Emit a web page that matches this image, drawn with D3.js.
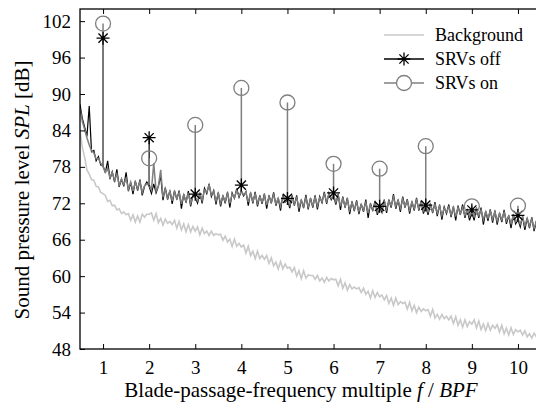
<!DOCTYPE html>
<html>
<head>
<meta charset="utf-8">
<script src="https://cdn.jsdelivr.net/npm/d3@7"></script>
<style>
  body { margin: 0; background: #fff; }
  svg { display: block; font-family: "Liberation Serif", serif; }
</style>
</head>
<body>
<div id="chart"></div>
<script>
// spectrum bins: f/BPF from 0.50 in steps of 0.05
const freqStart = 0.5;
const freqStep = 0.05;

const srvOff = [
  88.3, 86.0, 84.6, 83.0, 88.0, 80.5, 80.7, 79.0, 79.7, 78.3,
  78.2, 77.0, 79.0, 76.0, 77.2, 75.5, 77.6, 74.7, 76.0, 74.8,
  77.1, 74.0, 75.4, 73.5, 75.7, 74.1, 75.9, 73.3, 74.8, 75.5,
  74.8, 73.6, 75.2, 73.7, 74.8, 76.6, 72.5, 74.6, 72.6, 74.1,
  71.9, 74.1, 72.6, 74.1, 71.1, 73.5, 72.1, 74.0, 71.5, 73.3,
  73.0, 72.0, 73.7, 72.0, 74.5, 73.6, 75.2, 73.1, 74.1, 71.8,
  73.8, 71.5, 73.3, 72.0, 73.9, 71.3, 73.7, 72.8, 74.4, 73.0,
  74.0, 73.2, 73.9, 71.6, 73.8, 72.0, 73.9, 71.5, 73.3, 71.9,
  73.6, 71.1, 73.3, 72.0, 73.8, 71.6, 72.9, 70.8, 73.4, 72.2,
  72.6, 71.2, 73.3, 71.6, 73.3, 70.6, 72.6, 71.2, 73.4, 71.0,
  72.9, 71.3, 73.3, 71.0, 73.1, 72.1, 73.9, 71.9, 73.7, 72.6,
  73.3, 71.8, 73.5, 70.9, 73.1, 71.3, 72.9, 70.2, 72.3, 70.7,
  72.5, 70.2, 71.9, 70.6, 72.6, 69.6, 72.0, 70.7, 72.4, 70.1,
  71.4, 70.5, 72.6, 70.4, 72.6, 71.3, 73.5, 71.1, 72.6, 70.6,
  73.1, 71.3, 72.7, 70.3, 72.3, 70.8, 72.9, 70.8, 72.4, 70.3,
  71.6, 70.1, 72.0, 70.4, 72.2, 69.9, 71.8, 69.3, 71.4, 70.3,
  71.8, 69.7, 71.5, 69.2, 71.6, 70.1, 71.8, 69.6, 71.0, 69.2,
  70.5, 69.2, 71.3, 69.6, 71.3, 68.5, 70.7, 69.1, 71.0, 68.8,
  70.8, 68.5, 70.4, 68.9, 70.9, 68.6, 70.0, 67.9, 70.2, 68.6,
  69.3, 68.1, 69.9, 67.6, 69.6, 67.9, 69.7, 67.4, 69.1, 67.6
];

const srvOn = [
  87.6, 85.5, 84.2, 82.8, 81.6, 80.7, 80.3, 79.3, 79.4, 78.6,
  78.0, 77.1, 77.8, 76.2, 77.1, 75.8, 76.8, 75.0, 76.0, 75.1,
  76.1, 74.3, 75.5, 74.0, 75.5, 74.4, 75.6, 73.8, 74.9, 75.2,
  75.0, 74.2, 78.6, 74.0, 74.8, 77.5, 73.0, 74.4, 72.9, 74.0,
  72.4, 73.9, 72.8, 73.8, 71.9, 73.4, 72.3, 73.7, 72.0, 73.2,
  73.0, 72.4, 73.6, 72.5, 74.2, 73.8, 75.0, 73.4, 74.0, 72.4,
  73.6, 72.0, 73.2, 72.3, 73.6, 72.0, 73.5, 72.9, 74.1, 73.2,
  74.0, 73.4, 73.8, 72.2, 73.6, 72.3, 73.5, 72.0, 73.1, 72.2,
  73.3, 71.7, 73.1, 72.2, 73.4, 71.9, 72.8, 71.5, 73.1, 72.3,
  72.6, 71.7, 73.0, 71.9, 72.9, 71.3, 72.5, 71.5, 72.9, 71.4,
  72.6, 71.6, 73.0, 71.6, 72.9, 72.3, 73.5, 72.3, 73.5, 72.8,
  73.3, 72.2, 73.3, 71.5, 72.8, 71.5, 72.6, 70.9, 72.1, 71.0,
  72.1, 70.7, 71.8, 70.9, 72.1, 70.4, 71.8, 70.9, 72.0, 70.6,
  71.4, 70.9, 72.3, 71.0, 72.4, 71.6, 73.0, 71.5, 72.5, 71.2,
  72.7, 71.5, 72.4, 70.9, 72.2, 71.1, 72.5, 71.1, 72.2, 70.8,
  71.6, 70.6, 71.8, 70.7, 71.8, 70.4, 71.5, 70.0, 71.2, 70.5,
  71.4, 70.1, 71.3, 69.8, 71.3, 70.3, 71.3, 70.0, 70.9, 69.8,
  70.6, 69.8, 71.0, 70.0, 70.9, 69.3, 70.6, 69.6, 70.7, 69.4,
  70.6, 69.1, 70.3, 69.3, 70.5, 69.1, 69.9, 68.7, 70.0, 69.0,
  69.4, 68.6, 69.7, 68.3, 69.5, 68.3, 69.4, 67.9, 69.0, 68.0
];

const background = [
  84.0, 81.2, 79.6, 77.5, 76.8, 75.9, 75.8, 74.8, 74.7, 73.8,
  73.6, 73.3, 72.3, 72.5, 71.6, 71.7, 70.9, 71.1, 70.3, 70.6,
  70.1, 70.3, 69.2, 70.1, 68.9, 69.9, 68.9, 70.2, 69.7, 70.2,
  70.2, 70.4, 69.2, 70.3, 68.8, 69.5, 68.4, 69.4, 68.7, 69.0,
  68.5, 69.2, 67.9, 69.0, 67.6, 68.6, 67.3, 68.5, 67.3, 68.2,
  67.4, 68.1, 66.8, 67.9, 67.0, 67.4, 66.7, 67.4, 66.7, 67.0,
  66.8, 66.9, 65.9, 66.6, 65.6, 66.1, 64.9, 66.1, 64.9, 65.4,
  64.8, 65.1, 63.8, 64.9, 63.4, 64.1, 62.9, 64.1, 62.9, 63.4,
  62.8, 63.4, 62.1, 63.0, 61.7, 62.3, 61.2, 62.4, 61.2, 62.0,
  61.3, 61.5, 60.7, 61.4, 60.0, 60.9, 59.6, 60.9, 59.7, 60.2,
  60.1, 60.1, 59.5, 60.1, 59.2, 59.7, 59.0, 59.8, 59.2, 59.6,
  59.4, 59.5, 58.4, 59.5, 58.0, 58.9, 57.7, 58.6, 57.9, 58.2,
  57.9, 58.1, 57.3, 58.0, 57.0, 57.5, 56.4, 57.6, 56.5, 57.3,
  56.6, 56.9, 56.1, 56.8, 55.5, 56.4, 55.2, 56.4, 55.3, 55.8,
  55.5, 55.7, 54.6, 55.7, 54.3, 55.2, 54.0, 54.9, 54.2, 54.6,
  54.3, 54.5, 53.4, 54.5, 53.1, 53.7, 52.9, 53.7, 53.0, 53.4,
  52.8, 53.4, 52.2, 53.3, 51.9, 52.8, 51.6, 52.8, 51.7, 52.5,
  52.1, 52.8, 51.5, 52.6, 51.2, 52.1, 51.0, 52.2, 51.1, 51.9,
  51.4, 52.0, 50.8, 51.9, 50.5, 51.4, 50.3, 51.5, 50.4, 51.2,
  50.8, 51.1, 50.3, 51.0, 50.0, 50.5, 49.8, 50.6, 50.0, 50.4
];

// tonal peaks at the blade-passage-frequency harmonics
const harmonics = [1, 2, 3, 4, 5, 6, 7, 8, 9, 10];
const peakOff = [99.2, 82.8, 73.5, 75.0, 72.8, 73.7, 71.5, 71.7, 70.9, 70.0];
const peakOn = [101.6, 79.4, 84.9, 91.0, 88.6, 78.5, 77.7, 81.4, 71.5, 71.6];

const xTicks = [1, 2, 3, 4, 5, 6, 7, 8, 9, 10];
const yTicks = [48, 54, 60, 66, 72, 78, 84, 90, 96, 102];

const WIDTH = 536, HEIGHT = 406;
const MARGIN = { top: 9, right: -5, bottom: 57, left: 80 };
const FONT = '"Liberation Serif", serif';

const svg = d3.select('#chart').append('svg')
  .attr('width', WIDTH)
  .attr('height', HEIGHT);

const x = d3.scaleLinear()
  .domain([0.5, 10.5])
  .range([MARGIN.left, WIDTH - MARGIN.right]);
const y = d3.scaleLinear()
  .domain([48, 104])
  .range([HEIGHT - MARGIN.bottom, MARGIN.top]);

const freq = i => freqStart + i * freqStep;
const binOf = h => Math.round((h - freqStart) / freqStep);

svg.append('defs').append('clipPath').attr('id', 'plot')
  .append('rect')
  .attr('x', x(0.5)).attr('y', y(104))
  .attr('width', x(10.5) - x(0.5)).attr('height', y(48) - y(104));

const plot = svg.append('g').attr('clip-path', 'url(#plot)');

const line = d3.line()
  .x((d, i) => x(freq(i)))
  .y(d => y(d));

plot.append('path')
  .attr('d', line(background))
  .attr('fill', 'none')
  .attr('stroke', '#c8c8c8')
  .attr('stroke-width', 1.6);

plot.append('path')
  .attr('d', line(srvOff))
  .attr('fill', 'none')
  .attr('stroke', '#000')
  .attr('stroke-width', 1.2);

plot.append('path')
  .attr('d', line(srvOn))
  .attr('fill', 'none')
  .attr('stroke', '#7f7f7f')
  .attr('stroke-width', 1.5);

// spikes up to the tonal peaks
plot.selectAll('.stemOff').data(harmonics).join('line')
  .attr('x1', d => x(d)).attr('x2', d => x(d))
  .attr('y1', (d, i) => y(srvOff[binOf(d)]))
  .attr('y2', (d, i) => y(peakOff[i]))
  .attr('stroke', '#000').attr('stroke-width', 1.2);

plot.selectAll('.stemOn').data(harmonics).join('line')
  .attr('x1', d => x(d)).attr('x2', d => x(d))
  .attr('y1', (d, i) => y(srvOn[binOf(d)]))
  .attr('y2', (d, i) => y(peakOn[i]))
  .attr('stroke', '#7f7f7f').attr('stroke-width', 1.5);

const asterisk = r => {
  const p = d3.path();
  for (let k = 0; k < 4; k++) {
    const a = k * Math.PI / 4;
    p.moveTo(-r * Math.cos(a), -r * Math.sin(a));
    p.lineTo(r * Math.cos(a), r * Math.sin(a));
  }
  return p.toString();
};

plot.selectAll('.mkOff').data(harmonics).join('path')
  .attr('transform', (d, i) => `translate(${x(d)},${y(peakOff[i])})`)
  .attr('d', asterisk(6.5))
  .attr('stroke', '#000').attr('stroke-width', 1.3).attr('fill', 'none');

plot.selectAll('.mkOn').data(harmonics).join('circle')
  .attr('cx', d => x(d))
  .attr('cy', (d, i) => y(peakOn[i]))
  .attr('r', 7.5)
  .attr('stroke', '#7f7f7f').attr('stroke-width', 1.3).attr('fill', 'none');

// axes with inward ticks
svg.append('g')
  .attr('transform', `translate(0,${y(48)})`)
  .call(d3.axisBottom(x).tickValues(xTicks).tickSize(-5).tickPadding(12).tickFormat(d3.format('d')))
  .call(g => g.select('.domain').remove());
svg.append('g')
  .attr('transform', `translate(0,${y(104)})`)
  .call(d3.axisTop(x).tickValues(xTicks).tickSize(-5).tickFormat(''))
  .call(g => g.select('.domain').remove());
svg.append('g')
  .attr('transform', `translate(${x(0.5)},0)`)
  .call(d3.axisLeft(y).tickValues(yTicks).tickSize(-5).tickPadding(9))
  .call(g => g.select('.domain').remove());

svg.selectAll('g').attr('font-family', FONT);
svg.selectAll('.tick text')
  .attr('font-family', FONT)
  .attr('font-size', 19)
  .attr('fill', '#000');
svg.selectAll('.tick line').attr('stroke', '#000').attr('stroke-width', 1);

svg.append('rect')
  .attr('x', x(0.5)).attr('y', y(104))
  .attr('width', x(10.5) - x(0.5)).attr('height', y(48) - y(104))
  .attr('fill', 'none').attr('stroke', '#000').attr('stroke-width', 1.3);

// axis titles
const xt = svg.append('text')
  .attr('x', 301).attr('y', 397)
  .attr('text-anchor', 'middle')
  .attr('font-family', FONT)
  .attr('font-size', 21);
xt.append('tspan').text('Blade-passage-frequency multiple ');
xt.append('tspan').attr('font-style', 'italic').text('f');
xt.append('tspan').text(' / ');
xt.append('tspan').attr('font-style', 'italic').text('BPF');

const yt = svg.append('text')
  .attr('transform', 'translate(29,190) rotate(-90)')
  .attr('text-anchor', 'middle')
  .attr('font-family', FONT)
  .attr('font-size', 21);
yt.append('tspan').text('Sound pressure level ');
yt.append('tspan').attr('font-style', 'italic').text('SPL');
yt.append('tspan').text(' [dB]');

// legend
const legendNames = ['Background', 'SRVs off', 'SRVs on'];
const legendColors = ['#c8c8c8', '#000', '#7f7f7f'];
const legend = svg.append('g').attr('transform', 'translate(384,35)');
legendNames.forEach((name, i) => {
  const row = legend.append('g').attr('transform', `translate(0,${i * 24})`);
  row.append('line')
    .attr('x1', 0).attr('x2', 40)
    .attr('stroke', legendColors[i])
    .attr('stroke-width', i === 0 ? 1.6 : 1.4);
  if (i === 1) {
    row.append('path').attr('transform', 'translate(20,0)')
      .attr('d', asterisk(6.5)).attr('stroke', '#000').attr('stroke-width', 1.3);
  }
  if (i === 2) {
    row.append('circle').attr('cx', 20).attr('r', 7.5)
      .attr('fill', '#fff').attr('stroke', '#7f7f7f').attr('stroke-width', 1.3);
  }
  row.append('text')
    .attr('x', 51).attr('dy', '0.33em')
    .attr('font-family', FONT)
    .attr('font-size', 18)
    .text(name);
});
</script>
</body>
</html>
